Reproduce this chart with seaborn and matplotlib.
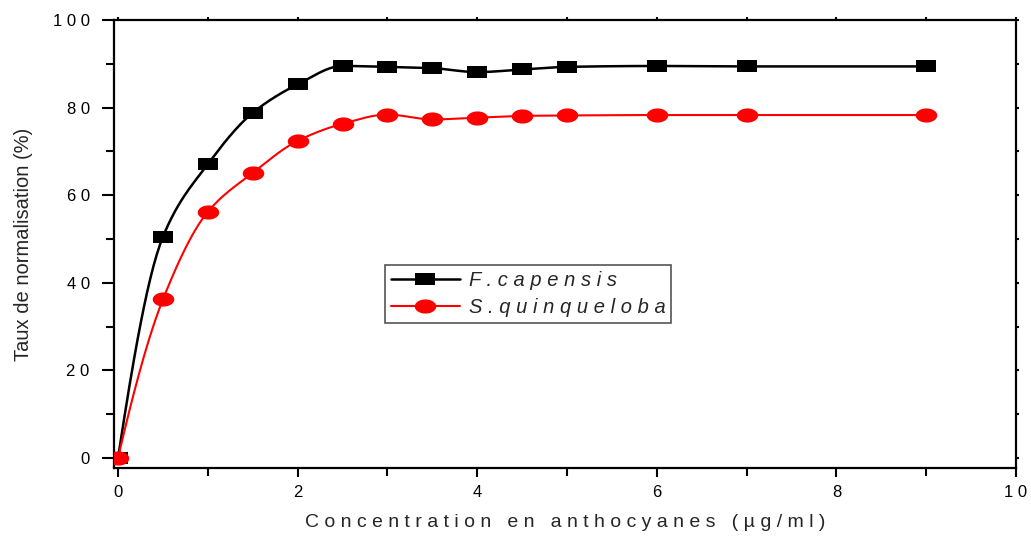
import numpy as np
import pandas as pd
import matplotlib
matplotlib.use("Agg")
import matplotlib.pyplot as plt
from matplotlib.path import Path
from matplotlib.lines import Line2D
import seaborn as sns

# ---- data ----
conc = [0, 0.5, 1, 1.5, 2, 2.5, 3, 3.5, 4, 4.5, 5, 6, 7, 9]
f_capensis = [0, 50.5, 67.1, 78.8, 85.3, 89.5, 89.3, 89.0, 88.1, 88.7, 89.3, 89.5, 89.4, 89.4]
s_quinqueloba = [0, 36.2, 56.2, 65.1, 72.4, 76.3, 78.4, 77.3, 77.7, 78.1, 78.2, 78.3, 78.3, 78.3]
series_names = ["F.capensis", "S.quinqueloba"]
x_ticks = [0, 2, 4, 6, 8, 10]
y_ticks = [0, 20, 40, 60, 80, 100]
x_label = "Concentration en anthocyanes (µg/ml)"
y_label = "Taux de normalisation (%)"


def spaced(s):
    return " ".join(list(s))


def pchip_curve(x, y, npts=500):
    """Shape-preserving cubic (Fritsch-Carlson) through the data points."""
    x = np.asarray(x, float); y = np.asarray(y, float)
    n = len(x); h = np.diff(x); delta = np.diff(y) / h
    d = np.zeros(n)
    for k in range(1, n - 1):
        if delta[k - 1] * delta[k] > 0:
            w1 = 2 * h[k] + h[k - 1]; w2 = h[k] + 2 * h[k - 1]
            d[k] = (w1 + w2) / (w1 / delta[k - 1] + w2 / delta[k])
    def end(h0, h1, d0, d1):
        v = ((2 * h0 + h1) * d0 - h0 * d1) / (h0 + h1)
        if np.sign(v) != np.sign(d0):
            v = 0.0
        elif np.sign(d0) != np.sign(d1) and abs(v) > abs(3 * d0):
            v = 3 * d0
        return v
    d[0] = end(h[0], h[1], delta[0], delta[1])
    d[-1] = end(h[-1], h[-2], delta[-1], delta[-2])
    xs = np.linspace(x[0], x[-1], npts)
    i = np.clip(np.searchsorted(x, xs, side="right") - 1, 0, n - 2)
    t = (xs - x[i]) / h[i]
    h00 = 2 * t**3 - 3 * t**2 + 1; h10 = t**3 - 2 * t**2 + t
    h01 = -2 * t**3 + 3 * t**2; h11 = t**3 - t**2
    ys = h00 * y[i] + h10 * h[i] * d[i] + h01 * y[i + 1] + h11 * h[i] * d[i + 1]
    return xs, ys


def ellipse_path(ax_ratio=1.52, n=60):
    t = np.linspace(0, 2 * np.pi, n)
    v = np.column_stack([np.cos(t), np.sin(t) / ax_ratio])
    return Path(v, closed=True)


def rect_path(ratio=1.5):
    v = [(-1, -1 / ratio), (1, -1 / ratio), (1, 1 / ratio), (-1, 1 / ratio), (-1, -1 / ratio)]
    return Path(v, closed=True)


sns.set_style("ticks")
plt.rcParams["font.family"] = ["Liberation Sans", "DejaVu Sans"]

fig = plt.figure(figsize=(10.31, 5.38), dpi=100)
ax = fig.add_axes([114 / 1031, 1 - 468 / 538, (1016 - 114) / 1031, (468 - 20) / 538])

sq_marker = rect_path(1.5)
ci_marker = ellipse_path(1.52)

styles = [
    (f_capensis, "black", sq_marker, 13.7, 1.8),
    (s_quinqueloba, "red", ci_marker, 15.5, 1.5),
]
handles = []
for (vals, col, mk, ms, lw), name in zip(styles, series_names):
    xs, ys = pchip_curve(conc, vals)
    sns.lineplot(x=xs, y=ys, ax=ax, color=col, linewidth=lw, legend=False, zorder=2)
    sns.scatterplot(x=conc, y=vals, ax=ax, color=col, marker=mk, s=ms ** 2,
                    linewidth=0, legend=False, zorder=3)
    handles.append(Line2D([0], [0], color=col, linewidth=lw, marker=mk,
                          markersize=ms, markeredgewidth=0, label=name))

ax.set_xlim(-0.045, 10)
ax.set_ylim(-2.3, 100)

ax.set_xticks(x_ticks)
ax.set_xticklabels([spaced(str(v)) for v in x_ticks])
ax.set_xticks([1, 3, 5, 7, 9], minor=True)
ax.set_yticks(y_ticks)
ax.set_yticklabels([spaced(str(v)) for v in y_ticks])
ax.set_yticks([10, 30, 50, 70, 90], minor=True)

for s in ax.spines.values():
    s.set_visible(True)
    s.set_linewidth(1.6)
    s.set_color("black")

ax.tick_params(axis="both", which="both", direction="out", colors="black",
               top=True, right=True)
ax.tick_params(axis="y", which="major", length=9, width=1.5, pad=8.5, labelsize=12)
ax.tick_params(axis="y", which="minor", length=6, width=1.5)
ax.tick_params(axis="x", which="major", length=6.5, width=1.5, pad=6, labelsize=12)
ax.tick_params(axis="x", which="minor", length=6, width=1.5)
ax.xaxis.set_tick_params(which="both", labeltop=False)
for t in ax.xaxis.get_major_ticks() + ax.xaxis.get_minor_ticks():
    t.tick2line.set_markersize(2.5)
for t in ax.yaxis.get_major_ticks() + ax.yaxis.get_minor_ticks():
    t.tick2line.set_markersize(2.5)

ax.set_xlabel(spaced(x_label), fontsize=14, labelpad=10)
ax.set_ylabel(y_label, fontsize=14.5, labelpad=14)

leg = ax.legend(handles=handles, labels=[spaced(n) for n in series_names],
                loc="upper left", bbox_to_anchor=((385 - 114) / 902, (468 - 265) / 448),
                borderaxespad=0, frameon=True, fancybox=False, framealpha=1,
                edgecolor="#555555", borderpad=0.3, labelspacing=0.4,
                handlelength=3.4, handletextpad=0.45,
                prop={"size": 14.5, "style": "italic"})
leg.get_frame().set_linewidth(1.2)

fig.savefig("out.png", dpi=100)
